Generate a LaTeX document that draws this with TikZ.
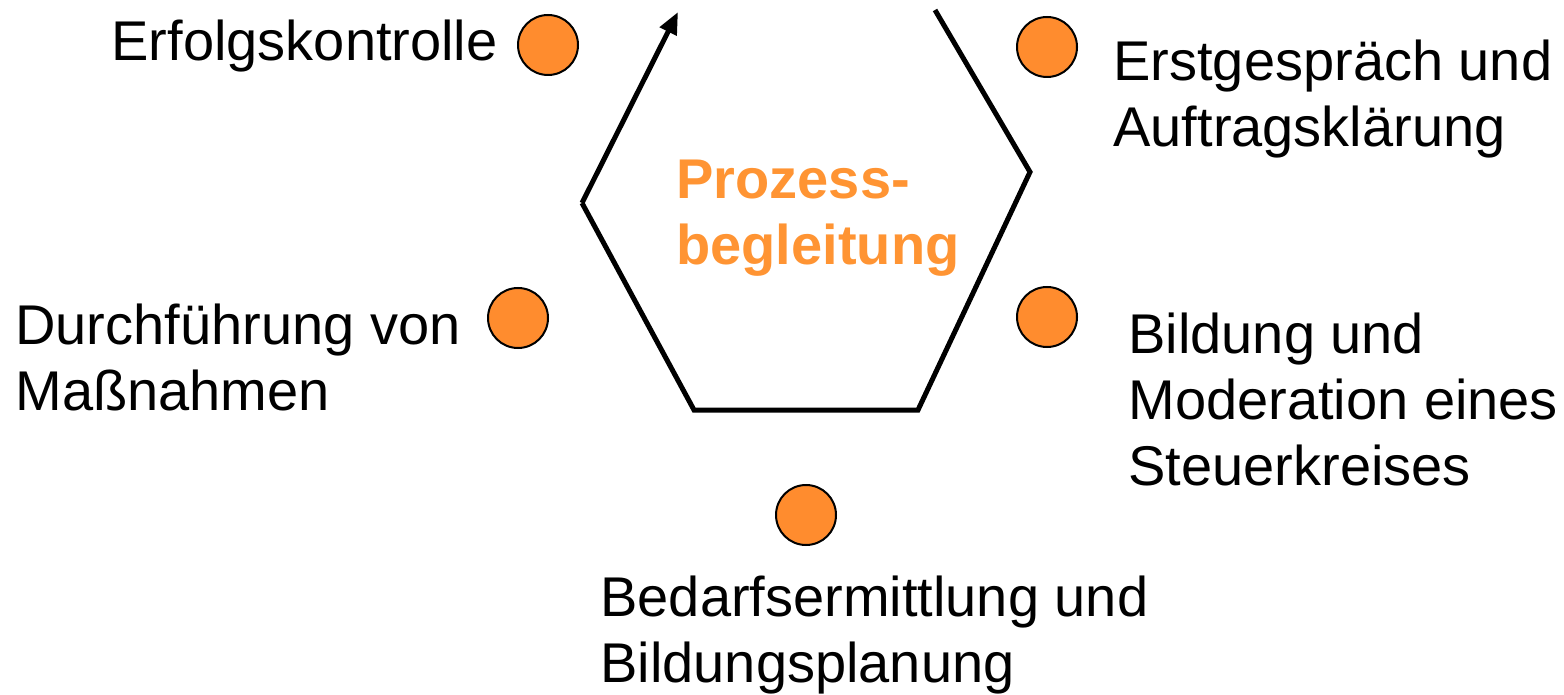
\documentclass[tikz,border=0pt]{standalone}
\usepackage{fontspec}
\setmainfont{Liberation Sans}
\usetikzlibrary{arrows.meta}
\definecolor{dotorange}{HTML}{FF8C2E}
\definecolor{titleorange}{HTML}{FF9433}
\begin{document}
\begin{tikzpicture}[x=0.5pt,y=-0.5pt,
  dot/.style={circle,draw=black,line width=1pt,fill=dotorange,minimum size=30pt,inner sep=0pt},
  lbl/.style={font=\fontsize{28pt}{32.8pt}\selectfont,align=left,inner sep=0pt},
  hexline/.style={line width=2.5pt,line join=miter}]
\useasboundingbox (0,0) rectangle (1564,695);
% hexagon cycle
\coordinate (h0) at (935,10);
\coordinate (h1) at (1030,172);
\coordinate (h2) at (918,410);
\coordinate (h3) at (694,410);
\coordinate (h4) at (582,203);
\coordinate (h5) at (678,12);
\draw[hexline] (h0) -- (h1) -- (h2) -- (h3) -- (h4);
\draw[hexline,-{Triangle[length=11pt,width=9pt]}] (h4) -- (h5);
% title
\node[lbl,font=\fontsize{28pt}{32.8pt}\selectfont\bfseries,text=titleorange,anchor=north west] (title) at (676,160) {Prozess-\\begleitung};
% dots
\node[dot] (d1) at (548,45) {};
\node[dot] (d2) at (1047,47) {};
\node[dot] (d3) at (1047,317) {};
\node[dot] (d4) at (806,515) {};
\node[dot] (d5) at (518,318) {};
% labels
\node[lbl,anchor=base east] (l1) at (498,61) {Erfolgskontrolle};
\node[lbl,anchor=north west] (l2) at (1113,40) {Erstgespräch und\\Auftragsklärung};
\node[lbl,anchor=north west] (l3) at (1128,313) {Bildung und\\Moderation eines\\Steuerkreises};
\node[lbl,anchor=north west] (l4) at (600,576) {Bedarfsermittlung und\\Bildungsplanung};
\node[lbl,anchor=north west] (l5) at (15,304) {Durchführung von\\Maßnahmen};
\end{tikzpicture}
\end{document}
